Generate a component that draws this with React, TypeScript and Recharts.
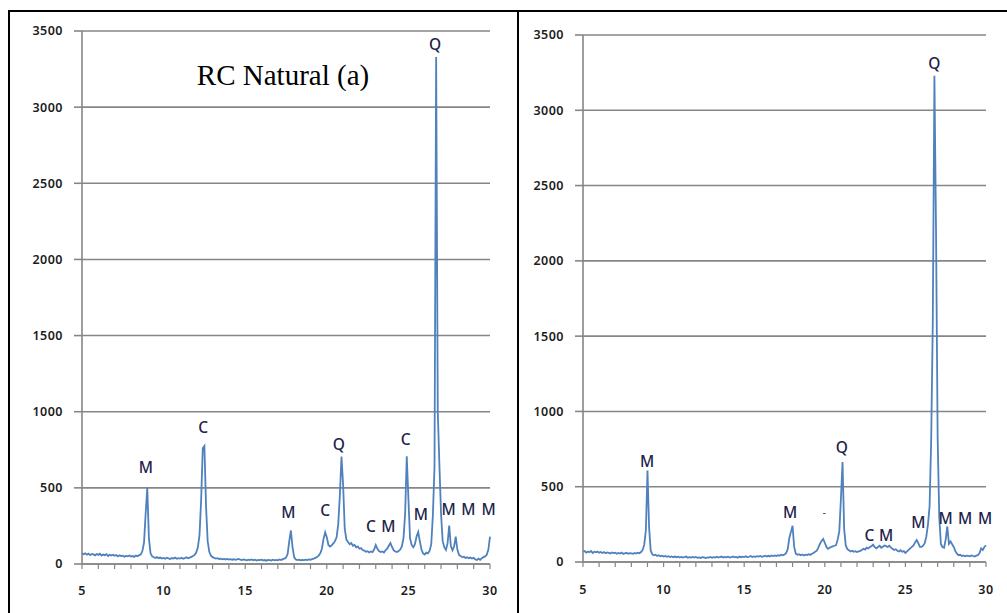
import { LineChart, Line, XAxis, YAxis, CartesianGrid, ReferenceDot } from "recharts"

// 2-theta grid starts at 5 deg, one reading every 0.1 deg up to 30
const START = 5
const STEP = 0.1

// RC Natural (a) - left panel
const intensityA = [
  72, 64, 70, 61, 68, 58, 66, 63, 57, 65,
  60, 67, 55, 62, 58, 64, 52, 60, 56, 61,
  54, 59, 50, 57, 52, 55, 48, 53, 50, 56,
  49, 52, 47, 55, 51, 58, 62, 85, 140, 330,
  500, 170, 70, 50, 44, 40, 45, 38, 42, 36,
  40, 35, 41, 37, 33, 39, 36, 42, 34, 38,
  36, 41, 35, 39, 44, 38, 42, 47, 52, 60,
  75, 110, 190, 420, 760, 775, 380, 150, 80, 55,
  45, 40, 36, 38, 33, 35, 31, 34, 30, 33,
  29, 32, 28, 31, 27, 30, 33, 28, 26, 30,
  27, 24, 29, 26, 30, 25, 28, 23, 27, 25,
  28, 24, 26, 22, 27, 25, 23, 28, 24, 27,
  25, 30, 26, 32, 35, 42, 65, 150, 220, 110,
  45, 30, 26, 29, 24, 27, 25, 28, 26, 30,
  28, 32, 35, 40, 46, 55, 70, 100, 165, 208,
  175, 125, 115, 122, 135, 150, 175, 260, 450, 705,
  520, 230, 160, 145, 130, 138, 120, 125, 110, 115,
  100, 104, 92, 88, 80, 84, 76, 82, 78, 95,
  125, 100, 85, 78, 82, 75, 90, 100, 120, 138,
  110, 90, 82, 78, 85, 95, 115, 170, 330, 708,
  430, 170, 125, 110, 130, 180, 210, 150, 95, 70,
  62, 75, 70, 88, 130, 320, 640, 3330, 1000, 650,
  330, 150, 110, 92, 135, 252, 120, 90, 115, 180,
  95, 60, 52, 45, 48, 40, 44, 38, 42, 36,
  40, 30, 26, 35, 28, 38, 45, 50, 60, 95,
  180,
]

// right panel
const intensityB = [
  68, 72, 62, 70, 65, 73, 60, 68, 64, 70,
  62, 67, 60, 66, 58, 64, 61, 57, 63, 59,
  62, 55, 60, 56, 63, 54, 58, 61, 55, 59,
  57, 54, 60, 56, 62, 58, 66, 80, 115, 210,
  608, 230, 75, 50, 44, 48, 40, 45, 38, 42,
  36, 40, 34, 38, 33, 37, 31, 36, 32, 35,
  30, 34, 29, 33, 36, 28, 32, 30, 34, 29,
  33, 28, 31, 27, 32, 30, 26, 31, 29, 33,
  28, 32, 30, 35, 29, 33, 36, 30, 34, 31,
  35, 30, 33, 37, 31, 34, 29, 36, 32, 35,
  33, 38, 31, 35, 40, 33, 37, 34, 39, 36,
  40, 35, 38, 42, 36, 41, 37, 43, 39, 44,
  40, 45, 42, 48, 44, 50, 58, 85, 160, 200,
  241, 100, 55, 48, 52, 45, 50, 43, 49, 46,
  52, 47, 55, 60, 68, 75, 95, 120, 140, 153,
  128, 100, 88, 95, 100, 104, 108, 112, 150, 205,
  420, 664, 220, 110, 85, 78, 70, 75, 68, 72,
  66, 70, 74, 80, 88, 82, 95, 90, 100, 105,
  115, 98, 90, 100, 108, 95, 102, 110, 105, 100,
  108, 95, 88, 80, 85, 75, 70, 78, 68, 72,
  60, 70, 80, 90, 100, 110, 130, 146, 125, 100,
  100, 108, 125, 170, 250, 370, 812, 1600, 3230, 2200,
  834, 300, 120, 100, 95, 150, 236, 120, 136, 118,
  100, 72, 55, 45, 48, 40, 44, 38, 42, 40,
  38, 44, 40, 36, 42, 45, 60, 90, 80, 100,
  110,
]

// phase marks (M, C, Q) placed above the peaks
const peakLabelsA = [
  { x: 8.92, y: 638, text: "M" },
  { x: 12.43, y: 899, text: "C" },
  { x: 17.64, y: 342, text: "M" },
  { x: 19.9, y: 353, text: "C" },
  { x: 20.73, y: 785, text: "Q" },
  { x: 22.7, y: 247, text: "C" },
  { x: 23.77, y: 247, text: "M" },
  { x: 24.83, y: 818, text: "C" },
  { x: 25.77, y: 331, text: "M" },
  { x: 26.63, y: 3412, text: "Q" },
  { x: 27.47, y: 364, text: "M" },
  { x: 28.67, y: 364, text: "M" },
  { x: 29.92, y: 364, text: "M" },
]

const peakLabelsB = [
  { x: 8.97, y: 668, text: "M" },
  { x: 17.85, y: 332, text: "M" },
  { x: 19.96, y: 332, text: "-" },
  { x: 21.06, y: 761, text: "Q" },
  { x: 22.77, y: 181, text: "C" },
  { x: 23.8, y: 181, text: "M" },
  { x: 25.81, y: 263, text: "M" },
  { x: 26.8, y: 3313, text: "Q" },
  { x: 27.5, y: 292, text: "M" },
  { x: 28.7, y: 292, text: "M" },
  { x: 29.94, y: 292, text: "M" },
]

const xTicks = [5, 6, 7, 8, 9, 10, 11, 12, 13, 14, 15, 16, 17, 18, 19, 20, 21, 22, 23, 24, 25, 26, 27, 28, 29, 30]
const yTicks = [0, 500, 1000, 1500, 2000, 2500, 3000, 3500]

const toRows = (values: number[]) =>
  values.map((y, i) => ({ x: +(START + i * STEP).toFixed(1), y }))

const GRID = "#868686"
const LINE = "#4f81bd"
const tickFont = { fontFamily: "Noto Sans", fontSize: 12.5, fontWeight: 600, fill: "#1c1c1c", letterSpacing: 0.5 }

interface PanelProps {
  values: number[]
  labels: { x: number; y: number; text: string }[]
  width: number
  margin: { top: number; right: number; bottom: number; left: number }
  yWidth: number
  xTickMargin: number
}

function Panel({ values, labels, width, margin, yWidth, xTickMargin }: PanelProps) {
  const rows = toRows(values)
  return (
    <LineChart width={width} height={613} data={rows} margin={margin}>
      <CartesianGrid horizontal vertical={false} stroke={GRID} strokeWidth={1.6} />
      <XAxis
        dataKey="x"
        type="number"
        domain={[5, 30]}
        ticks={xTicks}
        interval={0}
        height={40}
        tickSize={5}
        tickMargin={xTickMargin}
        tickFormatter={(v: number) => (v % 5 === 0 ? String(v) : "")}
        axisLine={{ stroke: GRID, strokeWidth: 1.6 }}
        tickLine={{ stroke: GRID, strokeWidth: 1.2 }}
        tick={tickFont}
      />
      <YAxis
        type="number"
        domain={[0, 3500]}
        ticks={yTicks}
        interval={0}
        width={yWidth}
        tickSize={8}
        tickMargin={11}
        axisLine={{ stroke: GRID, strokeWidth: 1.6 }}
        tickLine={{ stroke: GRID, strokeWidth: 1.6 }}
        tick={tickFont}
      />
      <Line
        dataKey="y"
        type="linear"
        stroke={LINE}
        strokeWidth={1.8}
        dot={false}
        isAnimationActive={false}
      />
      {labels.map((l, i) => (
        <ReferenceDot
          key={i}
          x={l.x}
          y={l.y}
          ifOverflow="visible"
          shape={(p: any) => (
            <text
              x={p.cx}
              y={p.cy}
              textAnchor="middle"
              dominantBaseline="central"
              fontFamily="Noto Sans"
              fontWeight={500}
              fontSize={l.text === "-" ? 9 : 15.5}
              fill="#20224a"
            >
              {l.text}
            </text>
          )}
        />
      ))}
    </LineChart>
  )
}

export default function App() {
  return (
    <div style={{ position: "absolute", left: 0, top: 0, width: 1007, height: 613, background: "#fff" }}>
      <div style={{ position: "absolute", left: 8, top: 10, width: 999, height: 2, background: "#000" }} />
      <div style={{ position: "absolute", left: 8, top: 10, width: 2, height: 603, background: "#000" }} />
      <div style={{ position: "absolute", left: 517, top: 10, width: 2, height: 603, background: "#000" }} />

      <div style={{ position: "absolute", left: 0, top: 0 }}>
        <Panel
          values={intensityA}
          labels={peakLabelsA}
          width={500}
          margin={{ top: 31, right: 10, bottom: 9, left: 0 }}
          yWidth={82}
          xTickMargin={17}
        />
      </div>
      <div style={{ position: "absolute", left: 517, top: 0 }}>
        <Panel
          values={intensityB}
          labels={peakLabelsB}
          width={490}
          margin={{ top: 35, right: 21, bottom: 11, left: 0 }}
          yWidth={66}
          xTickMargin={18}
        />
      </div>

      <svg width={1007} height={613} style={{ position: "absolute", left: 0, top: 0, pointerEvents: "none" }}>
        <text x={283} y={85} textAnchor="middle" fontFamily="Liberation Serif" fontSize={29} fill="#000">
          RC Natural (a)
        </text>
      </svg>
    </div>
  )
}
